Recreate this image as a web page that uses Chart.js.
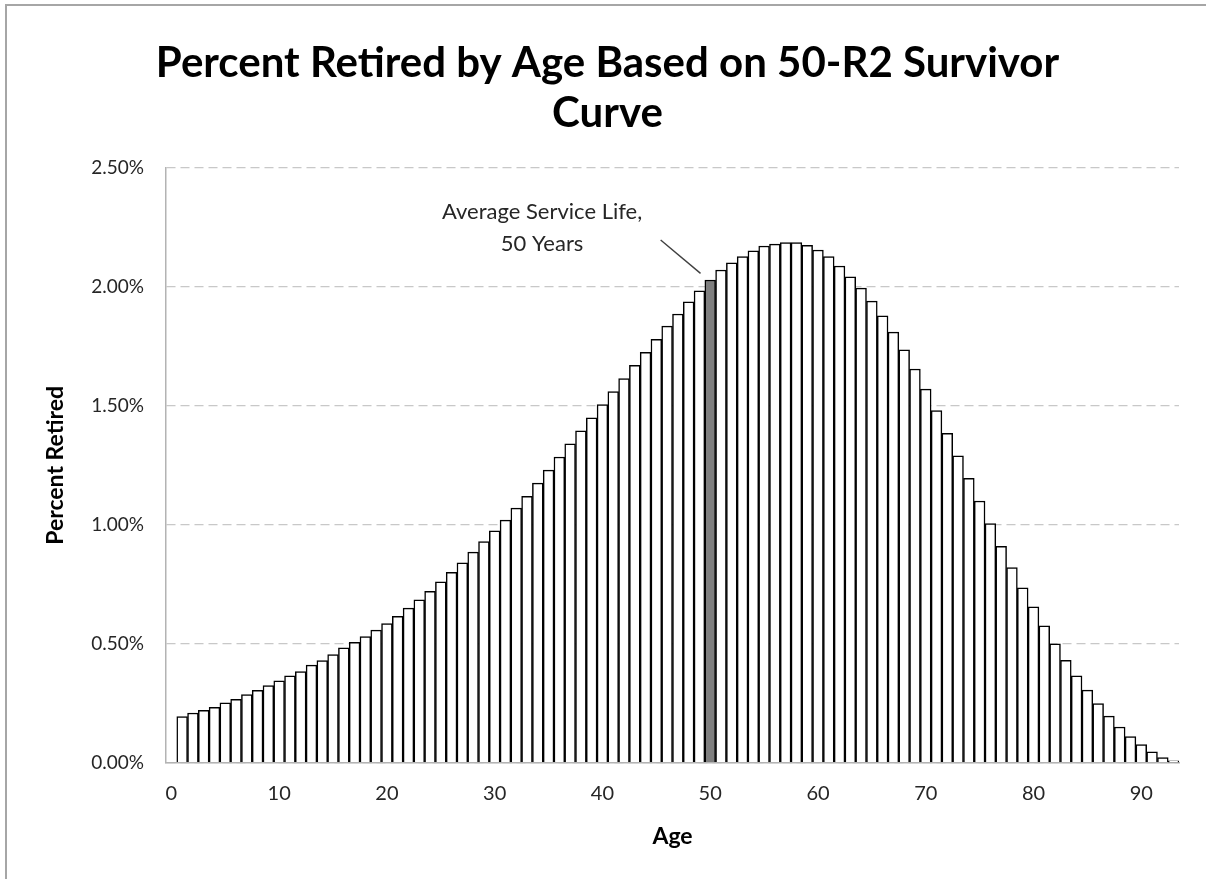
<!DOCTYPE html>
<html>
<head>
<meta charset="utf-8">
<script src="https://cdn.jsdelivr.net/npm/chart.js@4.4.1/dist/chart.umd.min.js"></script>
<style>
  html, body { margin: 0; padding: 0; background: #ffffff; }
  #wrap { position: relative; width: 1206px; height: 879px; }
  #wrap::before {
    content: ""; position: absolute; left: 5px; top: 4px; right: 0; bottom: 0;
    border-left: 2px solid #a6a6a6; border-top: 2px solid #a6a6a6; pointer-events: none;
  }
  canvas { display: block; }
</style>
</head>
<body>
<div id="wrap"><canvas id="chart" width="1206" height="879"></canvas></div>
<script>
// Age in years (category 0 carries no retirements)
const ages = [
  0, 1, 2, 3, 4, 5, 6, 7, 8, 9, 10, 11, 12, 13, 14, 15, 16, 17, 18, 19,
  20, 21, 22, 23, 24, 25, 26, 27, 28, 29, 30, 31, 32, 33, 34, 35, 36, 37, 38, 39,
  40, 41, 42, 43, 44, 45, 46, 47, 48, 49, 50, 51, 52, 53, 54, 55, 56, 57, 58, 59,
  60, 61, 62, 63, 64, 65, 66, 67, 68, 69, 70, 71, 72, 73, 74, 75, 76, 77, 78, 79,
  80, 81, 82, 83, 84, 85, 86, 87, 88, 89, 90, 91, 92, 93
];

// Percent of the original placements retired at each age
const retiredPct = [
  null, 0.194, 0.209, 0.220, 0.233, 0.252, 0.266, 0.286, 0.304, 0.324,
  0.344, 0.365, 0.383, 0.410, 0.429, 0.455, 0.483, 0.506, 0.530, 0.557,
  0.585, 0.615, 0.650, 0.685, 0.720, 0.760, 0.800, 0.840, 0.885, 0.930,
  0.975, 1.020, 1.070, 1.120, 1.175, 1.230, 1.285, 1.340, 1.395, 1.450,
  1.505, 1.560, 1.615, 1.670, 1.725, 1.780, 1.835, 1.886, 1.937, 1.984,
  2.029, 2.071, 2.101, 2.127, 2.152, 2.172, 2.180, 2.186, 2.186, 2.175,
  2.155, 2.127, 2.088, 2.042, 1.995, 1.940, 1.878, 1.810, 1.735, 1.655,
  1.570, 1.480, 1.385, 1.290, 1.195, 1.100, 1.005, 0.910, 0.820, 0.735,
  0.655, 0.575, 0.500, 0.430, 0.365, 0.305, 0.248, 0.196, 0.150, 0.110,
  0.076, 0.046, 0.022, 0.008
];

// Ages that get a label on the horizontal axis
const xTickLabels = ['0', '10', '20', '30', '40', '50', '60', '70', '80', '90'];

// Average service life, drawn as the shaded bar
const averageLife = 50;

const titleLines = ['Percent Retired by Age Based on 50-R2 Survivor', 'Curve'];
const noteLines = ['Average Service Life,', '50 Years'];

const FONT = "Lato, 'Open Sans', sans-serif";
const TEXT = '#262626';

// Callout text with a leader line pointing at the average-life bar
const calloutPlugin = {
  id: 'callout',
  afterDatasetsDraw(chart) {
    const { ctx, scales: { x, y } } = chart;
    ctx.save();
    ctx.font = `22px ${FONT}`;
    ctx.fillStyle = TEXT;
    ctx.textAlign = 'center';
    ctx.textBaseline = 'middle';
    const cx = x.getPixelForValue(34.4);
    ctx.fillText(noteLines[0], cx, y.getPixelForValue(2.317));
    ctx.fillText(noteLines[1], cx, y.getPixelForValue(2.182));
    ctx.strokeStyle = '#404040';
    ctx.lineWidth = 1.4;
    ctx.beginPath();
    ctx.moveTo(x.getPixelForValue(45.4), y.getPixelForValue(2.197));
    ctx.lineTo(x.getPixelForValue(49.1), y.getPixelForValue(2.057));
    ctx.stroke();
    ctx.restore();
  }
};

new Chart(document.getElementById('chart'), {
  type: 'bar',
  data: {
    labels: ages.map(String),
    datasets: [{
      data: retiredPct,
      backgroundColor: ages.map(a => a === averageLife ? '#7f7f7f' : '#ffffff'),
      borderColor: '#000000',
      borderWidth: 1.5,
      barPercentage: 1,
      categoryPercentage: 1
    }]
  },
  options: {
    responsive: false,
    animation: false,
    layout: { padding: { left: 36, right: 27, top: 0, bottom: 20 } },
    plugins: {
      legend: { display: false },
      tooltip: { enabled: false },
      title: {
        display: true,
        text: titleLines,
        color: '#000000',
        font: { family: FONT, size: 42, weight: 'bold', lineHeight: 1.19 },
        padding: { top: 38, bottom: 30 }
      }
    },
    scales: {
      x: {
        grid: { display: false, drawTicks: false },
        border: { display: true, color: '#b3b3b3', width: 1.5 },
        ticks: {
          autoSkip: false, maxRotation: 0, padding: 19, color: TEXT,
          font: { family: FONT, size: 20 },
          callback(value) {
            const label = this.getLabelForValue(value);
            return xTickLabels.includes(label) ? label : '';
          }
        },
        title: {
          display: true, text: 'Age', color: '#000000',
          font: { family: FONT, size: 23, weight: 'bold' },
          padding: { top: 0, bottom: 9 }
        },
        afterFit(scale) { scale.height = 879 - 20 - 762.7; }
      },
      y: {
        min: 0, max: 2.5,
        grid: { color: '#c8c8c8', lineWidth: 1.2, drawTicks: false },
        border: { display: true, color: '#b3b3b3', width: 1.5, dash: [9, 5] },
        ticks: {
          stepSize: 0.5, padding: 22, color: TEXT,
          font: { family: FONT, size: 19 },
          callback: v => v.toFixed(2) + '%'
        },
        title: {
          display: true, text: 'Percent Retired', color: '#000000',
          font: { family: FONT, size: 23, weight: 'bold' },
          padding: { top: 6, bottom: 0 }
        },
        afterFit(scale) { scale.width = 166 - 36; }
      }
    }
  },
  plugins: [calloutPlugin]
});
</script>
</body>
</html>
